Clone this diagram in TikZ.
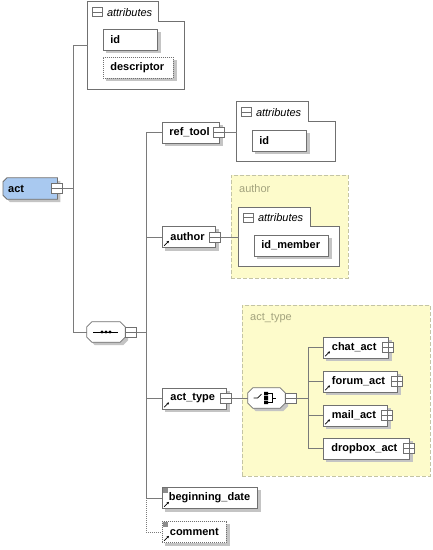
\documentclass[tikz,border=0pt]{standalone}
\usepackage{fontspec}
\setmainfont{Liberation Sans}
\usetikzlibrary{calc,arrows.meta}
\definecolor{boxgray}{HTML}{707070}
\definecolor{linegray}{HTML}{7A7A7A}
\definecolor{shadowgray}{HTML}{C4C4C4}
\definecolor{actblue}{HTML}{A9C9F0}
\definecolor{yellowfill}{HTML}{FDFBCB}
\definecolor{yellowborder}{HTML}{C4C4A4}
\definecolor{labelolive}{HTML}{A3A37E}
\definecolor{markgray}{HTML}{8C8C8C}
\pgfdeclarelayer{base}
\pgfdeclarelayer{shadow}
\pgfsetlayers{base,shadow,main}
\tikzset{
  conn/.style={draw=linegray, line width=0.8pt},
  elemtext/.style={font=\bfseries\fontsize{11}{13}\selectfont, anchor=west, inner ysep=0pt, minimum height=21pt, align=left},
  elem/.style={elemtext, draw=boxgray, fill=white, line width=0.8pt},
  optbox/.style={dash pattern=on 1pt off 1pt},
  icon/.style={draw=boxgray, fill=white, line width=0.7pt, minimum width=11pt, minimum height=10pt, inner sep=0pt},
  minusicon/.style={icon, path picture={\draw[boxgray, line width=0.7pt] (path picture bounding box.west) -- (path picture bounding box.east);}},
  plusicon/.style={icon, path picture={\draw[boxgray, line width=0.7pt] (path picture bounding box.west) -- (path picture bounding box.east) (path picture bounding box.north) -- (path picture bounding box.south);}},
  tabicon/.style={minusicon, minimum width=10pt, minimum height=9pt},
  tabtext/.style={font=\itshape\fontsize{11}{13}\selectfont, anchor=west, inner sep=0pt},
  folder/.style={draw=boxgray, fill=white, line width=0.8pt},
  holder/.style={inner sep=0pt, draw=none},
  octa/.style={draw=boxgray, fill=white, line width=0.8pt},
  shadowfill/.style={fill=shadowgray, draw=none},
  sym/.style={draw=black, line width=0.7pt},
  ybox/.style={draw=yellowborder, fill=yellowfill, line width=0.8pt, dash pattern=on 4pt off 2pt, inner sep=0pt},
  ylabel/.style={text=labelolive, font=\fontsize{11}{13}\selectfont, anchor=west, inner sep=0pt},
  refarrow/.style={-{Stealth[length=2.4pt,width=2.4pt]}, line width=0.6pt, black},
}
\begin{document}
\begin{tikzpicture}[x=1pt,y=-1pt]
\begin{pgfonlayer}{base}
\path[use as bounding box, fill=white] (0,0) rectangle (433,550);
% yellow group boxes
\node[ybox, minimum width=117pt, minimum height=103pt] (authbox) at (289.5,226.5) {};
\node[ybox, minimum width=188pt, minimum height=171pt] (atbox) at (336,390.5) {};
% attribute folders
\node[holder, minimum width=96pt, minimum height=87pt] (attr1) at (136,45.5) {};
\draw[folder] (attr1.north west) -- ($(attr1.north west)+(71,0)$) -- ($(attr1.north west)+(71,20)$) -- ($(attr1.north east)+(0,20)$) -- (attr1.south east) -- (attr1.south west) -- cycle;
\node[holder, minimum width=98pt, minimum height=59pt] (attr2) at (286,131.5) {};
\draw[folder] (attr2.north west) -- ($(attr2.north west)+(72,0)$) -- ($(attr2.north west)+(72,20)$) -- ($(attr2.north east)+(0,20)$) -- (attr2.south east) -- (attr2.south west) -- cycle;
\node[holder, minimum width=100pt, minimum height=58pt] (attr3) at (289,237) {};
\draw[folder] (attr3.north west) -- ($(attr3.north west)+(72,0)$) -- ($(attr3.north west)+(72,19)$) -- ($(attr3.north east)+(0,19)$) -- (attr3.south east) -- (attr3.south west) -- cycle;
\end{pgfonlayer}

\node[ylabel] (authlabel) at (239,189) {author};
\node[ylabel] (atlabel) at (250,318) {act\_type};

\node[tabicon] (attr1-m) at ($(attr1.north west)+(9.5,10.5)$) {};
\node[tabtext] (attr1-t) at ($(attr1.north west)+(19,10.5)$) {attributes};
\node[tabicon] (attr2-m) at ($(attr2.north west)+(9.5,10.5)$) {};
\node[tabtext] (attr2-t) at ($(attr2.north west)+(19,10.5)$) {attributes};
\node[tabicon] (attr3-m) at ($(attr3.north west)+(9.5,10)$) {};
\node[tabtext] (attr3-t) at ($(attr3.north west)+(19,10)$) {attributes};

% attribute entries
\node[elem, text width=40pt, inner xsep=7pt] (id1) at (103,39.5) {id};
\node[elem, optbox, text width=56pt, inner xsep=7pt] (desc) at (103,67.5) {descriptor};
\node[elem, text width=40pt, inner xsep=7pt] (id2) at (252,140.5) {id};
\node[elem, text width=60pt, inner xsep=7pt] (idm) at (254,245.5) {id\_member};

% root element
\node[elemtext, text width=44pt, inner xsep=5pt] (act) at (3,188.5) {act};
\begin{pgfonlayer}{shadow}
\fill[shadowfill] ($(act.north west)+(7,3)$) -- ($(act.north east)+(3,3)$) -- ($(act.south east)+(3,3)$) -- ($(act.south west)+(7,3)$) -- ($(act.south west)+(3,-1)$) -- ($(act.north west)+(3,7)$) -- cycle;
\draw[draw=boxgray, fill=actblue, line width=0.8pt] ($(act.north west)+(4,0)$) -- (act.north east) -- (act.south east) -- ($(act.south west)+(4,0)$) -- ($(act.south west)+(0,-4)$) -- ($(act.north west)+(0,4)$) -- cycle;
\end{pgfonlayer}
\node[minusicon] (act-i) at ($(act.east)+(-0.5,0)$) {};

% sequence compositor
\node[holder, minimum width=38pt, minimum height=20pt] (seq) at (106,332) {};
\begin{pgfonlayer}{shadow}
\fill[shadowfill] ($(seq.north west)+(8,3)$) -- ($(seq.north east)+(-2,3)$) -- ($(seq.north east)+(3,8)$) -- ($(seq.south east)+(3,-2)$) -- ($(seq.south east)+(-2,3)$) -- ($(seq.south west)+(8,3)$) -- ($(seq.south west)+(3,-2)$) -- ($(seq.north west)+(3,8)$) -- cycle;
\end{pgfonlayer}
\draw[octa] ($(seq.north west)+(5,0)$) -- ($(seq.north east)+(-5,0)$) -- ($(seq.north east)+(0,5)$) -- ($(seq.south east)+(0,-5)$) -- ($(seq.south east)+(-5,0)$) -- ($(seq.south west)+(5,0)$) -- ($(seq.south west)+(0,-5)$) -- ($(seq.north west)+(0,5)$) -- cycle;
\draw[sym] ($(seq.center)+(-13,0)$) -- ($(seq.center)+(12,0)$);
\fill[black] ($(seq.center)+(-4,0)$) circle (1.7) ($(seq.center)+(0,0)$) circle (1.7) ($(seq.center)+(4,0)$) circle (1.7);
\node[minusicon] (seq-i) at ($(seq.east)+(5.5,0)$) {};

% child elements of sequence
\node[elem, text width=43pt, inner xsep=7pt] (reftool) at (162,132.5) {ref\_tool};
\node[minusicon] (reftool-i) at ($(reftool.east)+(-0.5,0)$) {};
\node[elem, text width=37pt, inner xsep=8pt] (author) at (162,237) {author};
\node[minusicon] (author-i) at ($(author.east)+(-0.5,0)$) {};
\node[elem, text width=48pt, inner xsep=8pt] (acttype) at (162,398.5) {act\_type};
\node[minusicon] (acttype-i) at ($(acttype.east)+(-0.5,0)$) {};
\node[elem, text width=82pt, inner xsep=6.5pt] (bdate) at (162,498) {beginning\_date};
\node[elem, optbox, text width=49pt, inner xsep=7.5pt] (comment) at (162,532) {comment};

% choice compositor
\node[holder, minimum width=37pt, minimum height=20pt] (choice) at (266.5,398) {};
\begin{pgfonlayer}{shadow}
\fill[shadowfill] ($(choice.north west)+(8,3)$) -- ($(choice.north east)+(-2,3)$) -- ($(choice.north east)+(3,8)$) -- ($(choice.south east)+(3,-2)$) -- ($(choice.south east)+(-2,3)$) -- ($(choice.south west)+(8,3)$) -- ($(choice.south west)+(3,-2)$) -- ($(choice.north west)+(3,8)$) -- cycle;
\end{pgfonlayer}
\draw[octa] ($(choice.north west)+(5,0)$) -- ($(choice.north east)+(-5,0)$) -- ($(choice.north east)+(0,5)$) -- ($(choice.south east)+(0,-5)$) -- ($(choice.south east)+(-5,0)$) -- ($(choice.south west)+(5,0)$) -- ($(choice.south west)+(0,-5)$) -- ($(choice.north west)+(0,5)$) -- cycle;
\draw[sym] ($(choice.center)+(-13,0)$) -- ($(choice.center)+(-9,0)$) -- ($(choice.center)+(-5,-4)$);
\fill[black] ($(choice.center)+(-2.5,-6.2)$) rectangle +(4,3.6)
             ($(choice.center)+(-2.5,-1.8)$) rectangle +(4,3.6)
             ($(choice.center)+(-2.5,2.6)$) rectangle +(4,3.6);
\draw[sym] ($(choice.center)+(1.5,-4.4)$) -- ($(choice.center)+(5.5,-4.4)$) -- ($(choice.center)+(5.5,4.4)$) -- ($(choice.center)+(1.5,4.4)$);
\draw[sym] ($(choice.center)+(5.5,0)$) -- ($(choice.center)+(9,0)$);
\node[minusicon] (choice-i) at ($(choice.east)+(5.5,0)$) {};

% choice alternatives
\node[elem, text width=48pt, inner xsep=8.5pt] (chat) at (323,347.5) {chat\_act};
\node[plusicon] (chat-i) at ($(chat.east)+(-0.5,0)$) {};
\node[elem, text width=57pt, inner xsep=8.5pt] (forum) at (323,381.5) {forum\_act};
\node[plusicon] (forum-i) at ($(forum.east)+(-0.5,0)$) {};
\node[elem, text width=47pt, inner xsep=8.5pt] (mail) at (323,415.5) {mail\_act};
\node[plusicon] (mail-i) at ($(mail.east)+(-0.5,0)$) {};
\node[elem, text width=70pt, inner xsep=8pt] (dropbox) at (323,448.5) {dropbox\_act};
\node[plusicon] (dropbox-i) at ($(dropbox.east)+(-0.5,0)$) {};

% shadows of the boxes
\begin{pgfonlayer}{shadow}
\foreach \n in {id1,desc,id2,idm,reftool,author,acttype,bdate,comment,chat,forum,mail,dropbox}{
  \fill[shadowfill] ($(\n.south west)+(3,3)$) rectangle ($(\n.north east)+(3,3)$);
}
\end{pgfonlayer}

% reference arrows
\foreach \n in {author,acttype,bdate,comment,chat,forum,mail}{
  \draw[refarrow] ($(\n.south west)+(2.2,-2.2)$) -- ($(\n.south west)+(7,-7)$);
}
% simple-type marks
\fill[markgray] ($(bdate.north west)+(1.2,1.2)$) rectangle +(5,5);
\fill[markgray] ($(comment.north west)+(1.2,1.2)$) rectangle +(5,5);

% connectors
\coordinate (t1) at (73,0);
\coordinate (t2) at (146,0);
\coordinate (t3) at (308,0);
\draw[conn] (act-i.east) -- (act-i.east -| t1);
\draw[conn] (attr1.west) -- (attr1.west -| t1) -- (seq.west -| t1) -- (seq.west);
\draw[conn] (seq-i.east) -- (seq-i.east -| t2);
\draw[conn] (reftool.west) -- (reftool.west -| t2) -- (bdate.west -| t2) -- (bdate.west);
\draw[conn] (author.west -| t2) -- (author.west);
\draw[conn] (acttype.west -| t2) -- (acttype.west);
\draw[conn, dash pattern=on 1pt off 1pt] (bdate.west -| t2) -- (comment.west -| t2) -- (comment.west);
\draw[conn] (reftool-i.east) -- (reftool-i.east -| attr2.west);
\draw[conn] (author-i.east) -- (author-i.east -| attr3.west);
\draw[conn] (acttype-i.east) -- (acttype-i.east -| choice.west);
\draw[conn] (choice-i.east) -- (choice-i.east -| t3);
\draw[conn] (chat.west) -- (chat.west -| t3) -- (dropbox.west -| t3) -- (dropbox.west);
\draw[conn] (forum.west -| t3) -- (forum.west);
\draw[conn] (mail.west -| t3) -- (mail.west);
\end{tikzpicture}
\end{document}
